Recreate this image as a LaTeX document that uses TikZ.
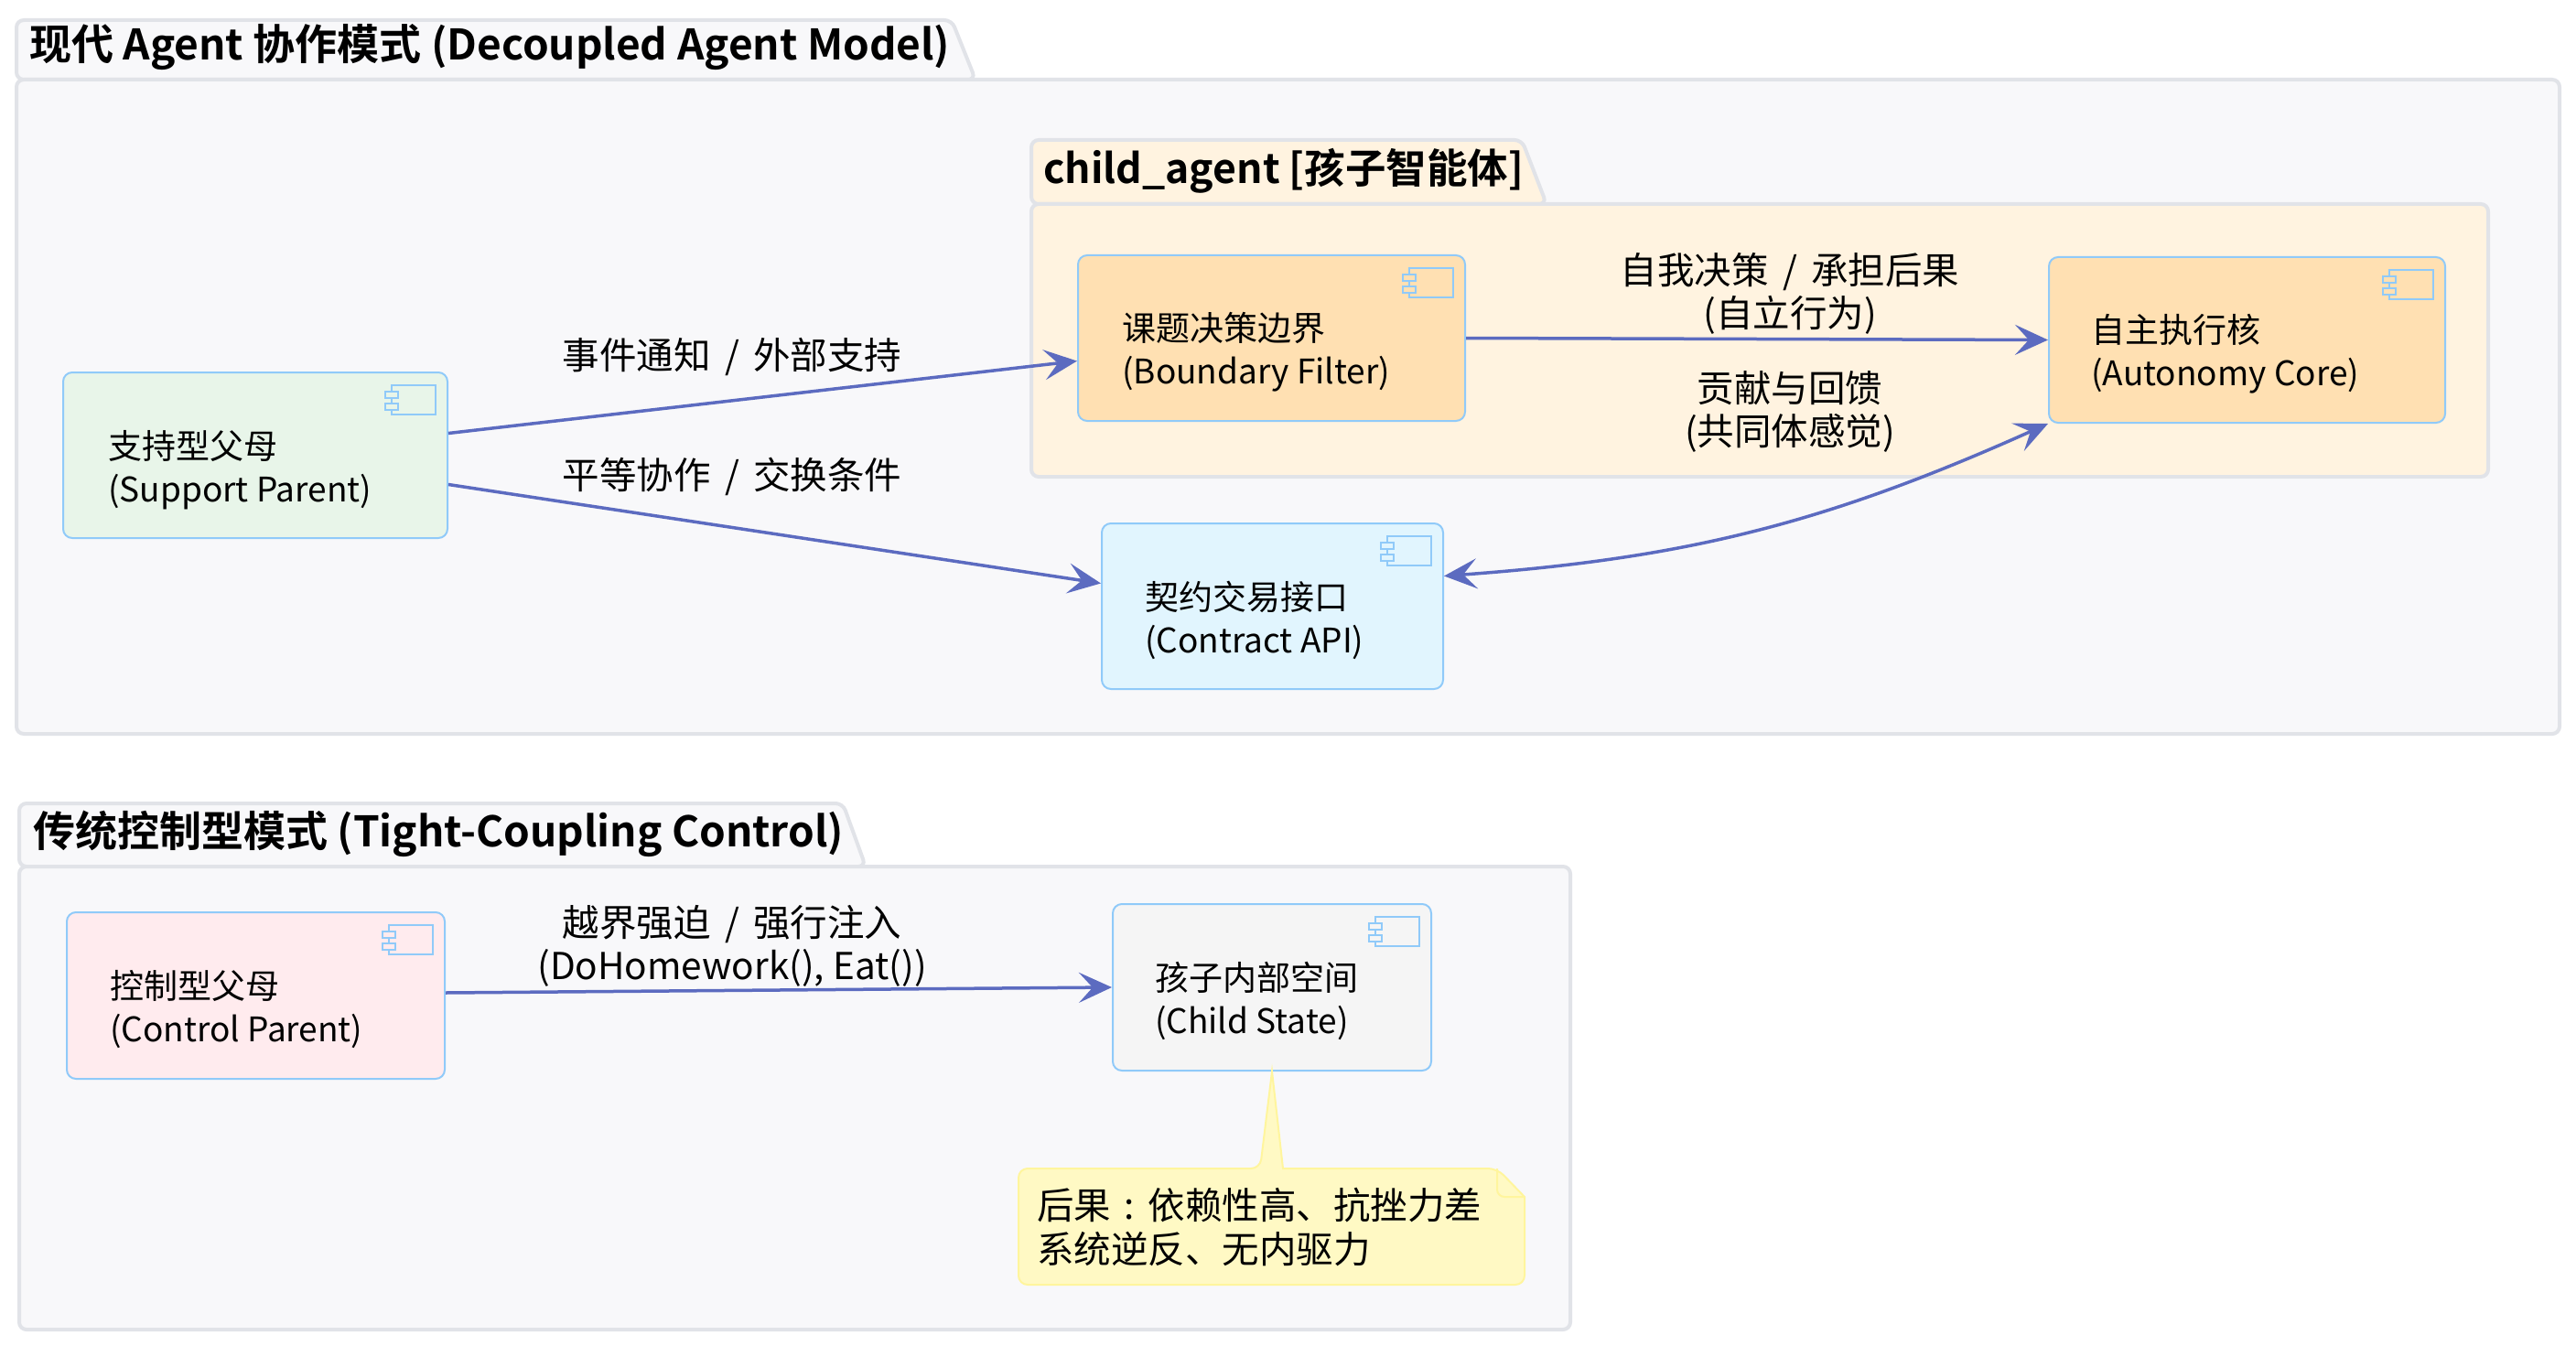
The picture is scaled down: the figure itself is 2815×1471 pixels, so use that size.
\documentclass[tikz,border=0pt]{standalone}
\usepackage{fontspec}
\setmainfont{Noto Sans CJK SC}[BoldFont={Noto Sans CJK SC Bold}]
\usetikzlibrary{arrows.meta}
\definecolor{pkgfill}{HTML}{F8F8FA}
\definecolor{pkgline}{HTML}{E1E3E8}
\definecolor{childfill}{HTML}{FFF3E0}
\definecolor{arrowc}{HTML}{5C6BC0}
\definecolor{boxline}{HTML}{90CAF9}
\definecolor{greenf}{HTML}{E8F5E9}
\definecolor{orangef}{HTML}{FFE0B2}
\definecolor{bluef}{HTML}{E1F5FE}
\definecolor{pinkf}{HTML}{FFEBEE}
\definecolor{grayf}{HTML}{F5F5F5}
\definecolor{notef}{HTML}{FFF9C4}
\definecolor{noteline}{HTML}{FFF59D}
\newcommand\compicon[2]{%
  \path ([xshift=-14pt,yshift=-15pt]#1.north east) coordinate (#1-ir);
  \draw[icon] (#1-ir) rectangle ++(-48pt,-32pt);
  \draw[icon,fill=#2] ([xshift=-55pt,yshift=-7pt]#1-ir) rectangle ++(14pt,-7pt);
  \draw[icon,fill=#2] ([xshift=-55pt,yshift=-20pt]#1-ir) rectangle ++(14pt,-7pt);
}
\newcommand\slsep{\hspace{0.38em}/\hspace{0.38em}}
\begin{document}
\begin{tikzpicture}[x=1pt,y=-1pt,
  pkg/.style={fill=pkgfill, draw=pkgline, line width=4pt, rounded corners=8pt},
  childpkg/.style={fill=childfill, draw=pkgline, line width=4pt, rounded corners=8pt},
  comp/.style={draw=boxline, line width=2pt, rounded corners=10pt, inner sep=0pt, anchor=north west},
  btext/.style={anchor=west, align=left, inner sep=0pt, font=\fontsize{37}{47}\selectfont},
  ntext/.style={anchor=west, align=left, inner sep=0pt, font=\fontsize{40.5}{48.5}\selectfont},
  lbl/.style={align=center, inner sep=0pt, font=\fontsize{40.5}{47}\selectfont},
  ttl/.style={anchor=west, inner sep=0pt, font=\fontsize{46}{52}\selectfont\bfseries},
  conn/.style={draw=arrowc, line width=3.5pt, -{Stealth[length=36pt,width=33pt,inset=15pt]}},
  conn2/.style={draw=arrowc, line width=3.5pt, {Stealth[length=36pt,width=33pt,inset=15pt]}-{Stealth[length=36pt,width=33pt,inset=15pt]}},
  icon/.style={draw=boxline, line width=2pt},
  notebox/.style={fill=notef, draw=noteline, line width=2pt, rounded corners=10pt}
]
\useasboundingbox (0,0) rectangle (2815,1471);
\fill[white] (0,0) rectangle (2815,1471);

% ---------- package 1 ----------
\draw[pkg] (18,87) -- (18,22) -- (1040,22) -- (1066,87) -- cycle;
\draw[pkg] (18,87) rectangle (2797,802);
\node[ttl] (t1) at (32,52) {现代 Agent 协作模式 (Decoupled Agent Model)};

% child package
\draw[childpkg] (1127,223) -- (1127,153) -- (1663,153) -- (1690,223) -- cycle;
\draw[childpkg] (1127,223) rectangle (2719,521);
\node[ttl, font=\fontsize{44.5}{52}\selectfont\bfseries] (t2) at (1140,187) {child\_agent [孩子智能体]};

% boxes
\node[comp, fill=greenf, minimum width=420pt, minimum height=181pt] (sp) at (68,406) {};
\node[comp, fill=orangef, minimum width=423pt, minimum height=181pt] (bf) at (1177,278) {};
\node[comp, fill=orangef, minimum width=433pt, minimum height=181pt] (ac) at (2238,280) {};
\node[comp, fill=bluef, minimum width=373pt, minimum height=181pt] (ca) at (1203,571) {};
\compicon{sp}{greenf}
\compicon{bf}{orangef}
\compicon{ac}{orangef}
\compicon{ca}{bluef}
\node[btext] (spt) at (118,514) {支持型父母\\(Support Parent)};
\node[btext] (bft) at (1226,385) {课题决策边界\\(Boundary Filter)};
\node[btext] (act) at (2285,387) {自主执行核\\(Autonomy Core)};
\node[btext] (cat) at (1251,678) {契约交易接口\\(Contract API)};

% connectors
\draw[conn] ([yshift=24pt]sp.east) -- ([yshift=-25pt]bf.west);
\draw[conn] ([yshift=-32pt]sp.east) -- ([yshift=25pt]ca.west);
\draw[conn] (bf.east) -- (ac.west);
\draw[conn2] ([yshift=33pt]ca.east) to[bend right=10] (ac.south west);

\node[lbl] (l1) at (800,390) {事件通知\slsep 外部支持};
\node[lbl] (l2) at (800,521) {平等协作\slsep 交换条件};
\node[lbl] (l3) at (1956,321) {自我决策\slsep 承担后果\\(自立行为)};
\node[lbl] (l4) at (1956,450) {贡献与回馈\\(共同体感觉)};

% ---------- package 2 ----------
\draw[pkg] (21,947) -- (21,878) -- (921,878) -- (946,947) -- cycle;
\draw[pkg] (21,947) rectangle (1716,1453);
\node[ttl] (t3) at (36,911) {传统控制型模式 (Tight-Coupling Control)};

\node[comp, fill=pinkf, minimum width=413pt, minimum height=182pt] (cp) at (72,996) {};
\node[comp, fill=grayf, minimum width=348pt, minimum height=182pt] (cs) at (1215,987) {};
\compicon{cp}{pinkf}
\compicon{cs}{grayf}
\node[btext] (cpt) at (120,1103) {控制型父母\\(Control Parent)};
\node[btext] (cst) at (1262,1094) {孩子内部空间\\(Child State)};

\draw[conn] ([yshift=3pt]cp.east) -- (cs.west);
\node[lbl] (l5) at (800,1034) {越界强迫\slsep 强行注入\\(DoHomework(), Eat())};

% note
\draw[notebox] (1113,1277) -- (1377,1277) [sharp corners] -- (cs.south) -- (1402,1277) [rounded corners=10pt] -- (1636,1277) [sharp corners] -- (1666,1308) [rounded corners=10pt] -- (1666,1404) -- (1113,1404) -- cycle;
\draw[draw=noteline, line width=2pt] (1636,1277) -- (1636,1300) to[out=-90,in=180] (1644,1308) -- (1666,1308);
\node[ntext] (note) at (1133,1341) {后果\makebox[1em]{:}依赖性高、抗挫力差\\系统逆反、无内驱力};
\end{tikzpicture}
\end{document}
